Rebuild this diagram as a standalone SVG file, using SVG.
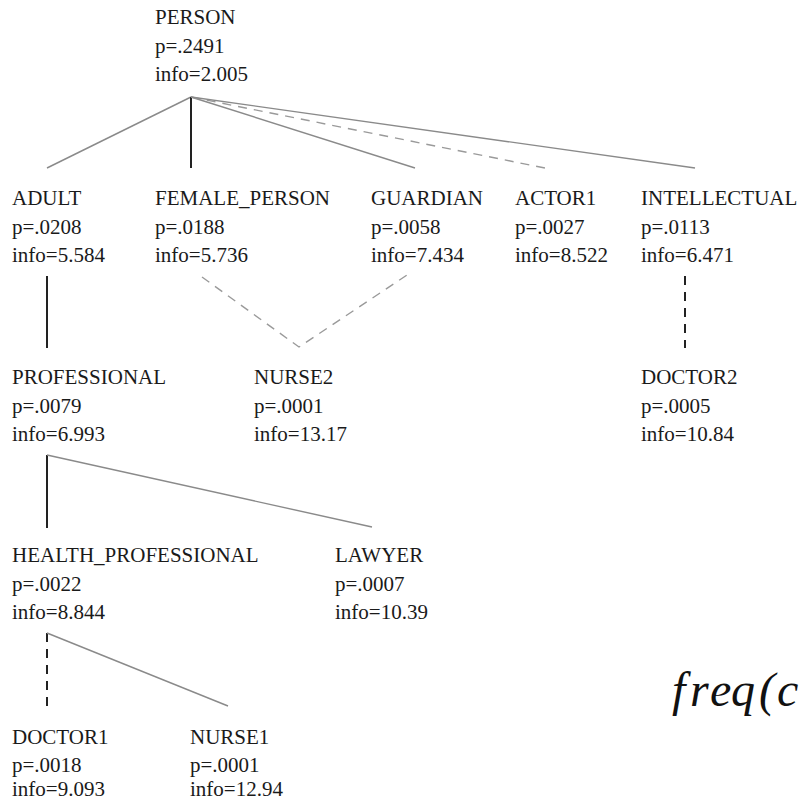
<svg xmlns="http://www.w3.org/2000/svg" width="804" height="800" viewBox="0 0 804 800">
  <style>
    .lbl { font-family: 'Times New Roman', Times, 'Liberation Serif', Tinos, 'Nimbus Roman', 'Nimbus Roman No9 L', FreeSerif, 'Noto Serif', 'DejaVu Serif', serif; font-size: 21px; fill: #1a1a1a; }
    .soft { stroke: #8a8a8a; stroke-width: 1.4; fill: none; }
    .firm { stroke: #222; stroke-width: 2; fill: none; }
    .dash-soft { stroke: #9a9a9a; stroke-width: 1.4; stroke-dasharray: 9 7; fill: none; }
    .dash-firm { stroke: #222; stroke-width: 2; stroke-dasharray: 9 7; fill: none; }
    .formula { font-family: 'Times New Roman', Times, 'Liberation Serif', Tinos, 'Nimbus Roman', FreeSerif, 'Noto Serif', 'DejaVu Serif', serif; font-style: italic; font-size: 48px; fill: #111; }
  </style>
  <rect width="804" height="800" fill="#fff"/>

  <!-- connectors -->
  <g id="connectors">
    <line class="soft" x1="191" y1="97" x2="47" y2="168"/>
    <line class="firm" x1="191" y1="97" x2="191" y2="168"/>
    <line class="soft" x1="191" y1="97" x2="415" y2="168"/>
    <line class="dash-soft" x1="191" y1="97" x2="545" y2="168"/>
    <line class="soft" x1="191" y1="97" x2="695" y2="168"/>
    <line class="firm" x1="47" y1="276" x2="47" y2="348"/>
    <polyline class="dash-soft" points="202,277 299,347 410,273"/>
    <line class="dash-firm" x1="685" y1="276" x2="685" y2="348"/>
    <line class="firm" x1="47" y1="455" x2="47" y2="528"/>
    <line class="soft" x1="47" y1="455" x2="372" y2="527"/>
    <line class="dash-firm" x1="47" y1="633" x2="47" y2="707"/>
    <line class="soft" x1="47" y1="633" x2="228" y2="706"/>
  </g>

  <g class="lbl">
    <g id="person"><text x="155" y="24">PERSON</text><text x="155" y="53">p=.2491</text><text x="155" y="81">info=2.005</text></g>
    <g id="adult"><text x="12" y="205">ADULT</text><text x="12" y="234">p=.0208</text><text x="12" y="262">info=5.584</text></g>
    <g id="female_person"><text x="155" y="205">FEMALE_PERSON</text><text x="155" y="234">p=.0188</text><text x="155" y="262">info=5.736</text></g>
    <g id="guardian"><text x="371" y="205">GUARDIAN</text><text x="371" y="234">p=.0058</text><text x="371" y="262">info=7.434</text></g>
    <g id="actor1"><text x="515" y="205">ACTOR1</text><text x="515" y="234">p=.0027</text><text x="515" y="262">info=8.522</text></g>
    <g id="intellectual"><text x="641" y="205">INTELLECTUAL</text><text x="641" y="234">p=.0113</text><text x="641" y="262">info=6.471</text></g>
    <g id="professional"><text x="12" y="384">PROFESSIONAL</text><text x="12" y="413">p=.0079</text><text x="12" y="441">info=6.993</text></g>
    <g id="nurse2"><text x="254" y="384">NURSE2</text><text x="254" y="413">p=.0001</text><text x="254" y="441">info=13.17</text></g>
    <g id="doctor2"><text x="641" y="384">DOCTOR2</text><text x="641" y="413">p=.0005</text><text x="641" y="441">info=10.84</text></g>
    <g id="health_professional"><text x="12" y="562">HEALTH_PROFESSIONAL</text><text x="12" y="591">p=.0022</text><text x="12" y="619">info=8.844</text></g>
    <g id="lawyer"><text x="335" y="562">LAWYER</text><text x="335" y="591">p=.0007</text><text x="335" y="619">info=10.39</text></g>
    <g id="doctor1"><text x="12" y="744">DOCTOR1</text><text x="12" y="772">p=.0018</text><text x="12" y="796">info=9.093</text></g>
    <g id="nurse1"><text x="190" y="744">NURSE1</text><text x="190" y="772">p=.0001</text><text x="190" y="796">info=12.94</text></g>
  </g>

  <text class="formula" x="672 690 710 731 759 777" y="706">freq(c</text>
</svg>
